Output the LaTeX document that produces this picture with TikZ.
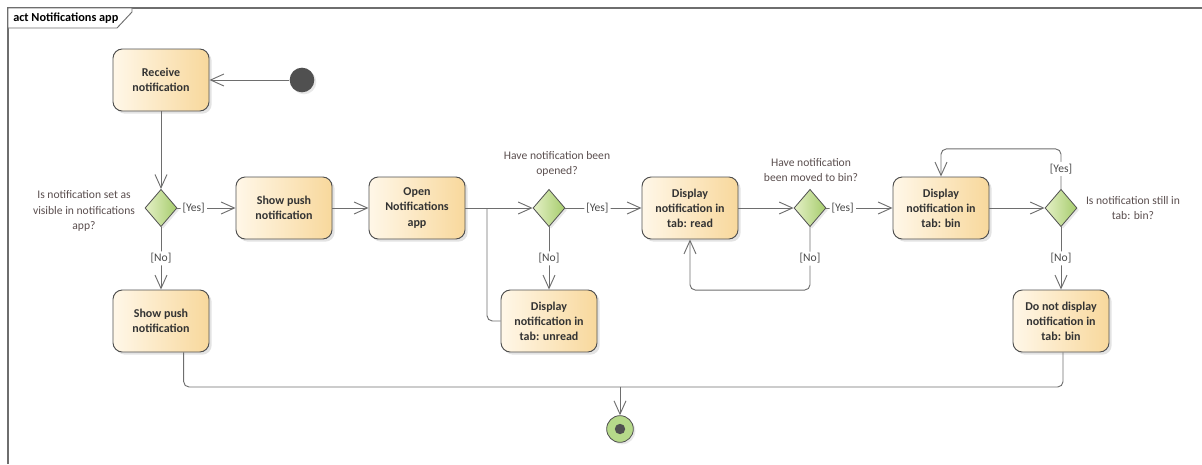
\documentclass[tikz,border=0pt]{standalone}
\usepackage{fontspec}
\setmainfont{Carlito}
\usepackage{xcolor}
\usepackage{tikz}
\usetikzlibrary{arrows.meta, positioning, calc, shapes.geometric, shadows}

\definecolor{linegray}{HTML}{6E6E6E}
\definecolor{textdark}{HTML}{333333}
\definecolor{guardtext}{HTML}{4A4A4A}
\definecolor{questtext}{HTML}{5A4E4E}
\definecolor{boxL}{HTML}{FFF7E8}
\definecolor{boxR}{HTML}{F8D89C}
\definecolor{decL}{HTML}{E4F0C6}
\definecolor{decR}{HTML}{A6CC6C}
\definecolor{dotgray}{HTML}{505050}
\definecolor{finalgreen}{HTML}{B6D98A}

\tikzset{
  actbox/.style={rectangle, rounded corners=7pt, draw=dotgray, line width=0.7pt,
    left color=boxL, right color=boxR, minimum width=72pt, minimum height=46.5pt,
    align=center, text=textdark, font=\fontsize{9}{11.3}\selectfont\bfseries,
    drop shadow={shadow xshift=2pt, shadow yshift=-2pt, fill=black!22}},
  decision/.style={diamond, draw=dotgray, line width=0.6pt, left color=decL, right color=decR,
    minimum width=24pt, minimum height=28pt, inner sep=0pt,
    drop shadow={shadow xshift=1.5pt, shadow yshift=-1.5pt, fill=black!18}},
  flow/.style={draw=linegray, line width=0.7pt, rounded corners=4pt,
    -{Straight Barb[length=10pt, width=9pt]}},
  plain/.style={draw=linegray, line width=0.7pt, rounded corners=4pt},
  guard/.style={font=\fontsize{8.7}{11.3}\selectfont, text=guardtext, fill=white, inner sep=1.5pt},
  quest/.style={font=\fontsize{8.7}{11.6}\selectfont, text=questtext, align=center}
}

\begin{document}
\begin{tikzpicture}[x=0.75pt, y=-0.75pt]
  \useasboundingbox (0,0) rectangle (1202,464);
  % frame and tab
  \draw[linegray, line width=0.8pt] (8,464) -- (8,8) -- (1202,8);
  \draw[linegray, line width=0.7pt, fill=white] (8,8) -- (132,8) -- (132,12) -- (117,28) -- (8,28) -- cycle;
  \node[anchor=west, font=\fontsize{9.2}{11}\selectfont\bfseries, text=black, inner sep=0pt] (title) at (13,18) {act Notifications app};

  % nodes
  \node[circle, fill=dotgray, minimum size=18.5pt, inner sep=0pt,
    drop shadow={shadow xshift=1.5pt, shadow yshift=-1.5pt, fill=black!18}] (start) at (302,80) {};
  \node[actbox] (recv) at (161,80) {Receive\\notification};
  \node[decision] (d1) at (161,208) {};
  \node[actbox] (push) at (284,208) {Show push\\notification};
  \node[actbox] (pushno) at (161,321) {Show push\\notification};
  \node[actbox] (open) at (417,208) {Open\\Notifications\\app};
  \node[decision] (d2) at (549,208) {};
  \node[actbox] (unread) at (549,321) {Display\\notification in\\tab: unread};
  \node[actbox] (read) at (690,208) {Display\\notification in\\tab: read};
  \node[decision] (d3) at (810,208) {};
  \node[actbox] (bin) at (941,208) {Display\\notification in\\tab: bin};
  \node[decision] (d4) at (1061,208) {};
  \node[actbox] (notbin) at (1061,321) {Do not display\\notification in\\tab: bin};
  \node[circle, draw=dotgray, line width=0.6pt, fill=finalgreen, minimum size=20pt, inner sep=0pt,
    path picture={\fill[dotgray] (path picture bounding box.center) circle (3.9pt);},
    drop shadow={shadow xshift=1.5pt, shadow yshift=-1.5pt, fill=black!18}] (fin) at (620,429) {};

  % questions
  \node[quest] (q1) at (84,211) {Is notification set as\\visible in notifications\\app?};
  \node[quest] (q2) at (557,164) {Have notification been\\opened?};
  \node[quest] (q3) at (811,170) {Have notification\\been moved to bin?};
  \node[quest] (q4) at (1133,208) {Is notification still in\\tab: bin?};

  % helper points
  \coordinate (j2) at (487,208);
  \coordinate (m) at (620,387);

  % connectors
  \draw[flow] (start) -- (recv);
  \draw[flow] (recv) -- (d1);
  \draw[flow] (d1) -- (push) node[guard, pos=0, anchor=west, xshift=2pt] {[Yes]};
  \draw[flow] (d1) -- node[guard] {[No]} (pushno);
  \draw[flow] (push) -- (open);
  \draw[flow] (open) -- (d2);
  \draw[plain] (unread.west) -| (j2);
  \draw[flow] (d2) -- (read) node[guard, pos=0.42] {[Yes]};
  \draw[flow] (d2) -- node[guard] {[No]} (unread);
  \draw[flow] (read) -- (d3);
  \draw[flow] (d3) -- (bin) node[guard, pos=0, anchor=west, xshift=2pt] {[Yes]};
  \draw[flow] (d3.south) -- node[guard] {[No]} ++(0,63) -| (read.south);
  \draw[flow] (bin) -- (d4);
  \draw[flow] (d4.north) -- node[guard] {[Yes]} ++(0,-40) -| (bin.north);
  \draw[flow] (d4) -- node[guard] {[No]} (notbin);
  \draw[plain] ([xshift=17pt]pushno.south) |- (m);
  \draw[plain] ([xshift=1.5pt]notbin.south) |- (m);
  \draw[flow] (m) -- (fin);
\end{tikzpicture}
\end{document}
